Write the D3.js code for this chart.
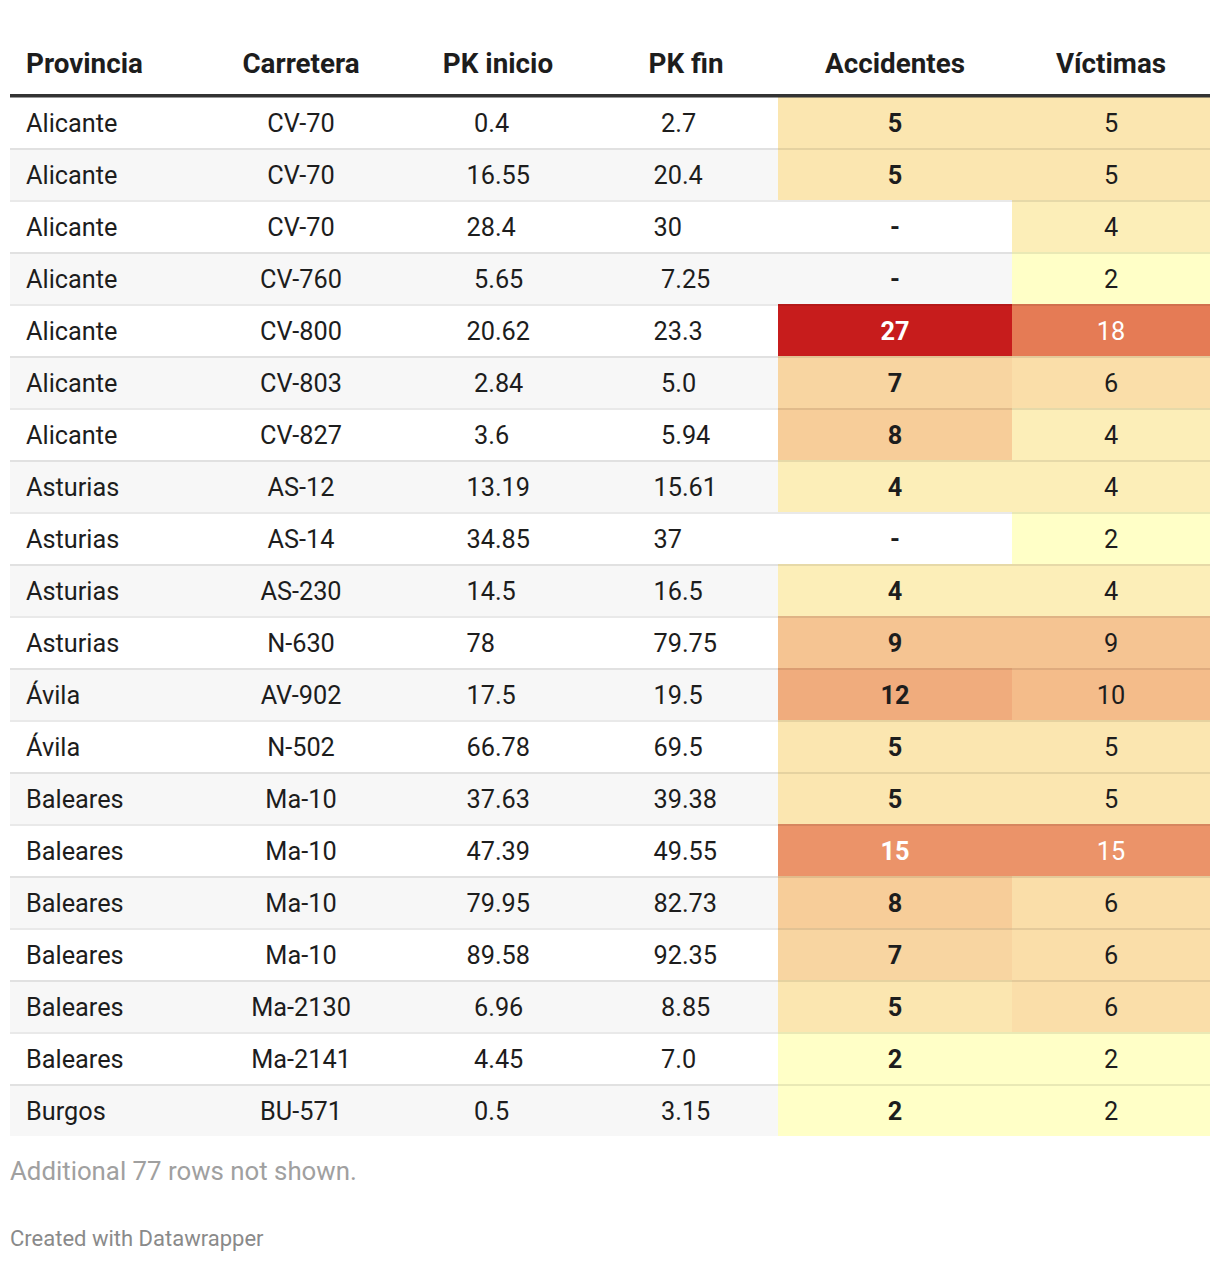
<!DOCTYPE html>
<html>
<head>
<meta charset="utf-8">
<script src="https://cdn.jsdelivr.net/npm/d3@7"></script>
<style>
  html, body { margin: 0; padding: 0; background: #fff; }
  svg { display: block; font-family: Roboto, "Noto Sans", sans-serif; }
</style>
</head>
<body>
<svg id="chart" width="1220" height="1262"></svg>
<script>
// ---------- data ----------
const headers = ["Provincia", "Carretera", "PK inicio", "PK fin", "Accidentes", "Víctimas"];
const provincias = ["Alicante","Alicante","Alicante","Alicante","Alicante","Alicante","Alicante",
  "Asturias","Asturias","Asturias","Asturias","Ávila","Ávila",
  "Baleares","Baleares","Baleares","Baleares","Baleares","Baleares","Burgos"];
const carreteras = ["CV-70","CV-70","CV-70","CV-760","CV-800","CV-803","CV-827","AS-12","AS-14","AS-230",
  "N-630","AV-902","N-502","Ma-10","Ma-10","Ma-10","Ma-10","Ma-2130","Ma-2141","BU-571"];
const pkInicio = ["0.4","16.55","28.4","5.65","20.62","2.84","3.6","13.19","34.85","14.5",
  "78","17.5","66.78","37.63","47.39","79.95","89.58","6.96","4.45","0.5"];
const pkFin = ["2.7","20.4","30","7.25","23.3","5.0","5.94","15.61","37","16.5",
  "79.75","19.5","69.5","39.38","49.55","82.73","92.35","8.85","7.0","3.15"];
const accidentes = [5,5,null,null,27,7,8,4,null,4,9,12,5,5,15,8,7,5,2,2];
const victimas   = [5,5,4,2,18,6,4,4,2,4,9,10,5,5,15,6,6,6,2,2];
const notes = "Additional 77 rows not shown.";
const credit = "Created with Datawrapper";

// ---------- layout ----------
const svg = d3.select("#chart");
const left = 10, right = 1210;
const colEdges = [10, 200, 402, 594, 778, 1012, 1210];
const n = provincias.length;
const y = d3.scaleBand().domain(d3.range(n)).range([96, 96 + 52 * n]).paddingInner(0);
const color = d3.scaleLinear()
  .domain([2, 10, 18, 27])
  .range(["#ffffc7", "#f4bc8a", "#e57b55", "#c71c1c"])
  .interpolate(d3.interpolateRgb);
const textColor = v => v >= 14 ? "#ffffff" : "#1d1d1d";

const ink = "#1d1d1d";
const center = i => (colEdges[i] + colEdges[i + 1]) / 2;

// header
const hdr = svg.append("g").attr("font-size", 27.8).attr("font-weight", 700).attr("fill", ink);
headers.forEach((h, i) => {
  hdr.append("text")
    .attr("x", i === 0 ? 26 : center(i))
    .attr("y", 72.5)
    .attr("text-anchor", i === 0 ? "start" : "middle")
    .text(h);
});

// rows background
const rows = svg.append("g");
d3.range(n).forEach(i => {
  const ry = y(i);
  rows.append("rect").attr("x", left).attr("y", ry).attr("width", right - left).attr("height", y.bandwidth())
    .attr("fill", i % 2 === 1 ? "#f7f7f7" : "#ffffff");
  if (accidentes[i] != null) {
    rows.append("rect").attr("x", colEdges[4]).attr("y", ry).attr("width", colEdges[5] - colEdges[4])
      .attr("height", y.bandwidth()).attr("fill", color(accidentes[i]));
  }
  if (victimas[i] != null) {
    rows.append("rect").attr("x", colEdges[5]).attr("y", ry).attr("width", colEdges[6] - colEdges[5])
      .attr("height", y.bandwidth()).attr("fill", color(victimas[i]));
  }
});
// separators
d3.range(1, n).forEach(i => {
  rows.append("rect").attr("x", left).attr("y", y(i)).attr("width", right - left).attr("height", 2)
    .attr("fill", "rgba(0,0,0,0.085)");
});
// header rule
svg.append("rect").attr("x", left).attr("y", 94).attr("width", right - left).attr("height", 3.5).attr("fill", "#333333");

// cell text
const body = svg.append("g").attr("font-size", 25.3).attr("fill", ink);
d3.range(n).forEach(i => {
  const by = y(i) + y.bandwidth() / 2 + 10;
  body.append("text").attr("x", 26).attr("y", by).text(provincias[i]);
  body.append("text").attr("x", center(1)).attr("y", by).attr("text-anchor", "middle").text(carreteras[i]);
  body.append("text").attr("x", 466.5 + (parseFloat(pkInicio[i]) < 10 ? 7.5 : 0)).attr("y", by).text(pkInicio[i]);
  body.append("text").attr("x", 653.5 + (parseFloat(pkFin[i]) < 10 ? 7.5 : 0)).attr("y", by).text(pkFin[i]);
  body.append("text").attr("x", center(4)).attr("y", by).attr("text-anchor", "middle")
    .attr("font-weight", 700)
    .attr("fill", accidentes[i] == null ? ink : textColor(accidentes[i]))
    .text(accidentes[i] == null ? "-" : accidentes[i]);
  body.append("text").attr("x", center(5)).attr("y", by).attr("text-anchor", "middle")
    .attr("fill", victimas[i] == null ? ink : textColor(victimas[i]))
    .text(victimas[i] == null ? "-" : victimas[i]);
});

// footer
svg.append("text").attr("x", 10).attr("y", 1180).attr("font-size", 25.8).attr("fill", "#a0a0a0").text(notes);
svg.append("text").attr("x", 10).attr("y", 1246).attr("font-size", 22).attr("fill", "#8a8a8a").text(credit);
</script>
</body>
</html>
